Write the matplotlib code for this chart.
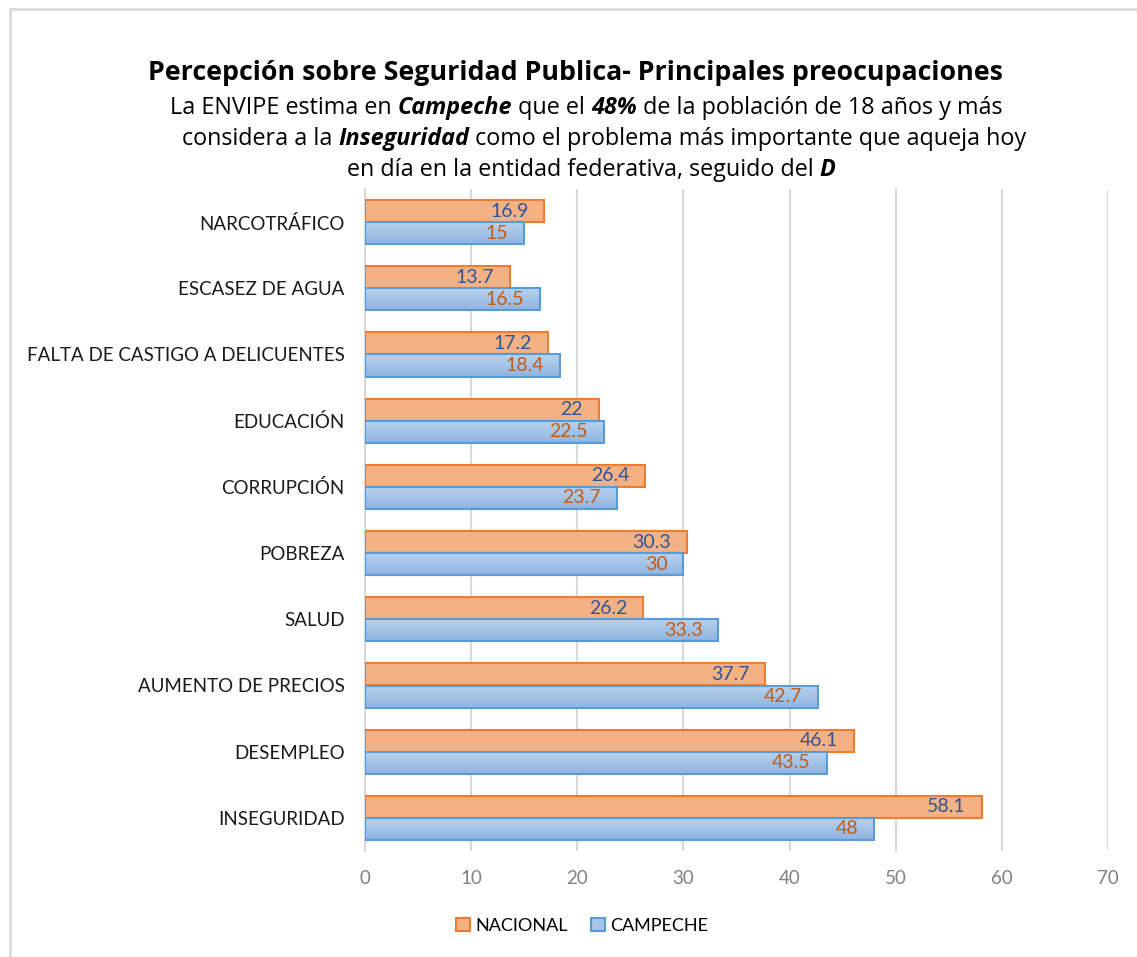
import matplotlib
matplotlib.use("Agg")
import matplotlib.pyplot as plt
import numpy as np
from matplotlib.patches import Rectangle, Patch
from matplotlib.colors import LinearSegmentedColormap

categories = ["NARCOTRÁFICO", "ESCASEZ DE AGUA", "FALTA DE CASTIGO A DELICUENTES",
              "EDUCACIÓN", "CORRUPCIÓN", "POBREZA", "SALUD",
              "AUMENTO DE PRECIOS", "DESEMPLEO", "INSEGURIDAD"]
nacional = [16.9, 13.7, 17.2, 22, 26.4, 30.3, 26.2, 37.7, 46.1, 58.1]
campeche = [15, 16.5, 18.4, 22.5, 23.7, 30, 33.3, 42.7, 43.5, 48]
series_names = ["NACIONAL", "CAMPECHE"]
xticks = [0, 10, 20, 30, 40, 50, 60, 70]

title = "Percepción sobre Seguridad Publica- Principales preocupaciones"
subtitle_lines = [
    [("La ENVIPE estima en ", "normal"), ("Campeche", "bi"), (" que el ", "normal"),
     ("48%", "bi"), (" de la población de 18 años y más", "normal")],
    [("considera a la ", "normal"), ("Inseguridad", "bi"),
     (" como el problema más importante que aqueja hoy", "normal")],
    [("en día en la entidad federativa, seguido del ", "normal"), ("D", "bi")],
]

FONT = "Lato"
TFONT = "Open Sans"
plt.rcParams['font.family'] = [FONT, 'DejaVu Sans']

W, H = 1137, 957
fig = plt.figure(figsize=(W / 100, H / 100), dpi=100)
fig.patch.set_facecolor("white")

# outer border
fig.add_artist(Rectangle((10 / W, -0.01), 1.05, (H - 9) / H + 0.01, transform=fig.transFigure,
                         fill=False, edgecolor="#D9D9D9", linewidth=2))

ax = fig.add_axes([365 / W, (H - 851) / H, (1108 - 365) / W, (851 - 189) / H])
n = len(categories)
ypos = np.arange(n)
bh = 0.335

orange_fill, orange_edge = "#F4B183", "#ED7D31"
blue_edge = "#5B9BD5"

ax.barh(ypos - bh / 2, nacional, height=bh, color=orange_fill, edgecolor=orange_edge,
        linewidth=1.5, zorder=3, label=series_names[0])
# gradient blue bars
grad = np.linspace(0, 1, 64).reshape(-1, 1)
cmap = LinearSegmentedColormap.from_list("bg", ["#BAD3EE", "#8FB4E2"])
for y, v in zip(ypos, campeche):
    y0, y1 = y, y + bh
    ax.imshow(grad, cmap=cmap, aspect="auto", extent=(0, v, y1, y0), zorder=3,
              interpolation="bilinear")
    ax.add_patch(Rectangle((0, y0), v, bh, fill=False, edgecolor=blue_edge,
                           linewidth=1.5, zorder=4))

ax.set_xlim(0, 70)
ax.set_ylim(n - 0.5, -0.5)
ax.set_xticks(xticks)
ax.set_xticklabels([str(t) for t in xticks], fontsize=13.5, color="#808080")
ax.set_yticks(ypos)
ax.set_yticklabels(categories, fontsize=13.5, color="#1a1a1a")
ax.tick_params(axis="both", length=0)
ax.tick_params(axis="x", pad=14)
ax.tick_params(axis="y", pad=14.5)
ax.xaxis.grid(True, color="#D9D9D9", linewidth=1.5, zorder=0)
ax.set_axisbelow(True)
for s in ["top", "right", "bottom"]:
    ax.spines[s].set_visible(False)
ax.spines["left"].set_color("#D9D9D9")
ax.spines["left"].set_linewidth(1.5)

for y, v in zip(ypos, nacional):
    ax.annotate(f"{v:g}", (v, y - bh / 2), xytext=(-11.5, 0), textcoords="offset points",
                ha="right", va="center", fontsize=14, color="#2F5597", zorder=5)
for y, v in zip(ypos, campeche):
    ax.annotate(f"{v:g}", (v, y + bh / 2), xytext=(-11.5, 0), textcoords="offset points",
                ha="right", va="center", fontsize=14, color="#C55A11", zorder=5)

# legend
handles = [Patch(facecolor=orange_fill, edgecolor=orange_edge, linewidth=1.5),
           Patch(facecolor="#A5C4E8", edgecolor=blue_edge, linewidth=1.5)]
fig.legend(handles, series_names, loc="center", bbox_to_anchor=(582 / W, 1 - 926 / H),
           ncol=2, frameon=False, fontsize=13, handlelength=0.75, handleheight=0.75,
           handletextpad=0.3, columnspacing=1.3)

fig.canvas.draw()
renderer = fig.canvas.get_renderer()

# title, fitted to reference width
tt = fig.text(575 / W, 1 - 73 / H, title, ha="center", va="center", fontsize=15,
              fontweight="bold", color="#000000", family=[TFONT, 'DejaVu Sans'])
w0 = tt.get_window_extent(renderer).width
tt.set_fontsize(15 * 856 / w0)

# subtitle with mixed styles
line_y = [108, 139, 170]
line_cx = [586, 604, 591]
sub_size = 14
texts_all = []
for segs, ly in zip(subtitle_lines, line_y):
    texts = []
    for s, style in segs:
        kw = dict(fontsize=sub_size, color="#000000", va="center", ha="left",
                  family=[TFONT, 'DejaVu Sans'])
        if style == "bi":
            kw.update(fontweight="bold", fontstyle="italic")
        t = fig.text(0, 1 - ly / H, s, **kw)
        texts.append(t)
    texts_all.append(texts)
# fit size with first line
w1 = sum(t.get_window_extent(renderer).width for t in texts_all[0])
new_size = sub_size * 837 / w1
for texts, cx in zip(texts_all, line_cx):
    for t in texts:
        t.set_fontsize(new_size)
    widths = [t.get_window_extent(renderer).width for t in texts]
    x = cx - sum(widths) / 2
    for t, w in zip(texts, widths):
        t.set_x(x / W)
        x += w

fig.savefig("out.png", dpi=100)
